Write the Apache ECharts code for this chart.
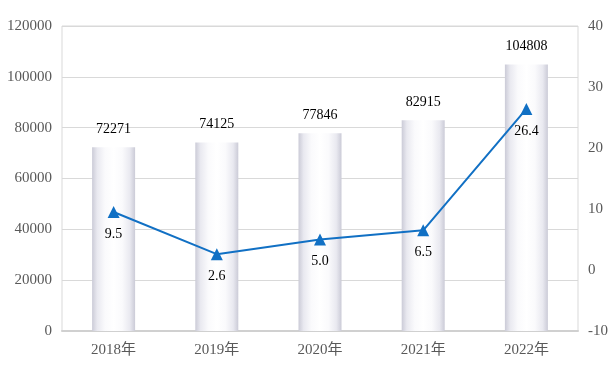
<!DOCTYPE html>
<html>
<head>
<meta charset="utf-8">
<script src="https://cdn.jsdelivr.net/npm/echarts@6/dist/echarts.min.js"></script>
<style>html,body{margin:0;padding:0;background:#fff;}#main{width:615px;height:378px;}</style>
</head>
<body>
<div id="main"></div>
<script>
var categories = ['2018年', '2019年', '2020年', '2021年', '2022年'];
var barValues = [72271, 74125, 77846, 82915, 104808];
var lineValues = [9.5, 2.6, 5.0, 6.5, 26.4];
var leftTicks = [0, 20000, 40000, 60000, 80000, 100000, 120000];
var rightTicks = [-10, 0, 10, 20, 30, 40];

var FONT = '"Liberation Serif", "Times New Roman", "Noto Sans CJK SC", serif';
var chart = echarts.init(document.getElementById('main'));
chart.setOption({
  animation: false,
  grid: { left: 62, right: 37, top: 26, bottom: 47, show: true, borderColor: '#d9d9d9', borderWidth: 1 },
  xAxis: {
    type: 'category', data: categories,
    axisLine: { lineStyle: { color: '#d0d0d0', width: 2 } },
    axisTick: { show: false },
    axisLabel: { color: '#595959', fontFamily: FONT, fontSize: 15, margin: 12 }
  },
  yAxis: [{
    type: 'value', min: leftTicks[0], max: leftTicks[leftTicks.length - 1], interval: 20000,
    axisLine: { show: false }, axisTick: { show: false },
    axisLabel: { color: '#595959', fontFamily: FONT, fontSize: 15, margin: 10,
      formatter: function (v) { return String(v); } },
    splitLine: { lineStyle: { color: '#d9d9d9', width: 1 } }
  }, {
    type: 'value', min: rightTicks[0], max: rightTicks[rightTicks.length - 1], interval: 10,
    axisLine: { show: false }, axisTick: { show: false },
    axisLabel: { color: '#595959', fontFamily: FONT, fontSize: 15, margin: 10,
      formatter: function (v) { return String(v); } },
    splitLine: { show: false }
  }],
  series: [{
    type: 'bar', data: barValues, barWidth: 43, yAxisIndex: 0,
    itemStyle: {
      color: new echarts.graphic.LinearGradient(0, 0, 1, 0, [
        { offset: 0, color: '#cbcbd7' },
        { offset: 0.12, color: '#e9e9f0' },
        { offset: 0.3, color: '#fafafc' },
        { offset: 0.5, color: '#ffffff' },
        { offset: 0.7, color: '#fafafc' },
        { offset: 0.88, color: '#e9e9f0' },
        { offset: 1, color: '#cbcbd7' }
      ])
    },
    label: { show: true, position: 'top', distance: 11, color: '#000', fontFamily: FONT, fontSize: 14 }
  }, {
    type: 'line', data: lineValues, yAxisIndex: 1,
    symbol: 'triangle', symbolSize: 12,
    lineStyle: { color: '#1170c4', width: 2 },
    itemStyle: { color: '#1170c4' },
    label: { show: true, position: 'bottom', distance: 9, color: '#000', fontFamily: FONT, fontSize: 14,
      formatter: function (p) { return p.value.toFixed(1); } }
  }]
});
</script>
</body>
</html>
